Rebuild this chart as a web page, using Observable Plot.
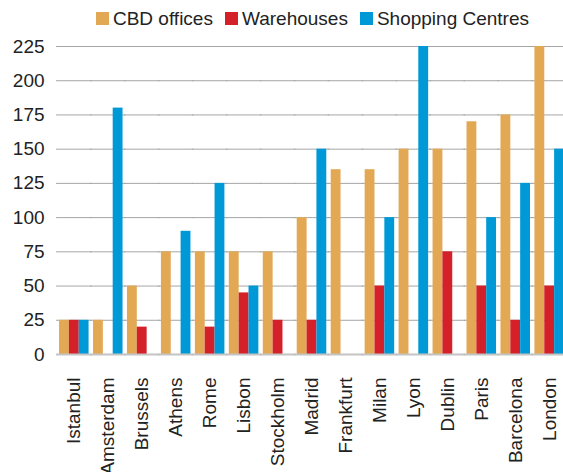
<!DOCTYPE html>
<html>
<head>
<meta charset="utf-8">
<script src="https://cdn.jsdelivr.net/npm/d3@7"></script>
<script src="https://cdn.jsdelivr.net/npm/@observablehq/plot@0.6"></script>
<style>
  html, body { margin: 0; padding: 0; background: #fff; overflow: hidden; }
  #wrap { width: 563px; height: 472px; overflow: hidden; font-family: "Liberation Sans", Arial, sans-serif; color: #222; }
  #legend { height: 37px; display: flex; align-items: center; justify-content: center; padding-left: 62px; box-sizing: border-box; font-size: 19px; }
  .item { display: flex; align-items: center; margin-right: 12px; }
  .item:last-child { margin-right: 0; }
  .sw { width: 13px; height: 13px; margin-right: 4px; }
</style>
</head>
<body>
<div id="wrap">
  <div id="legend"></div>
  <div id="chart"></div>
</div>
<script>
const cities = ["Istanbul","Amsterdam","Brussels","Athens","Rome","Lisbon","Stockholm","Madrid","Frankfurt","Milan","Lyon","Dublin","Paris","Barcelona","London"];
const seriesNames = ["CBD offices","Warehouses","Shopping Centres"];
const cbdOffices     = [25, 25, 50, 75, 75, 75, 75, 100, 135, 135, 150, 150, 170, 175, 225];
const warehouses     = [25,  0, 20,  0, 20, 45, 25,  25,   0,  50,   0,  75,  50,  25,  50];
const shoppingCentres= [25,180,  0, 90,125, 50,  0, 150,   0, 100, 225,   0, 100, 125, 150];
const yTicks = [0, 25, 50, 75, 100, 125, 150, 175, 200, 225];
const colors = ["#E2A854", "#D42129", "#0099D8"];

const seriesValues = [cbdOffices, warehouses, shoppingCentres];
const data = [];
cities.forEach((c, i) => {
  seriesNames.forEach((s, j) => data.push({city: c, series: s, value: seriesValues[j][i]}));
});

const legend = document.getElementById("legend");
seriesNames.forEach((s, j) => {
  const it = document.createElement("div");
  it.className = "item";
  it.innerHTML = `<div class="sw" style="background:${colors[j]}"></div><span>${s}</span>`;
  legend.appendChild(it);
});

const chart = Plot.plot({
  width: 563,
  height: 435,
  marginLeft: 57,
  marginRight: -3,
  marginTop: 9,
  marginBottom: 118,
  style: {fontFamily: "Liberation Sans, Arial, sans-serif", fontSize: "19px", color: "#222", background: "#fff", overflow: "visible"},
  fx: {domain: cities, round: false, paddingInner: 0.13, paddingOuter: 0.06, label: null, axis: "bottom", tickRotate: -90, tickSize: 0, tickPadding: 23},
  x: {domain: seriesNames, round: false, padding: 0, axis: null},
  y: {domain: [0, 225], ticks: yTicks, label: null, tickSize: 0, tickPadding: 15},
  color: {domain: seriesNames, range: colors},
  marks: [
    Plot.ruleY(yTicks.filter(d => d > 0), {stroke: "#a6a6a6", strokeWidth: 1, insetLeft: -3, insetRight: -3}),
    Plot.barY(data, {fx: "city", x: "series", y: "value", fill: "series"}),
    Plot.ruleY([0], {stroke: "#c4c4c4", strokeWidth: 2, insetLeft: -3, insetRight: -3})
  ]
});
document.getElementById("chart").appendChild(chart);
</script>
</body>
</html>
